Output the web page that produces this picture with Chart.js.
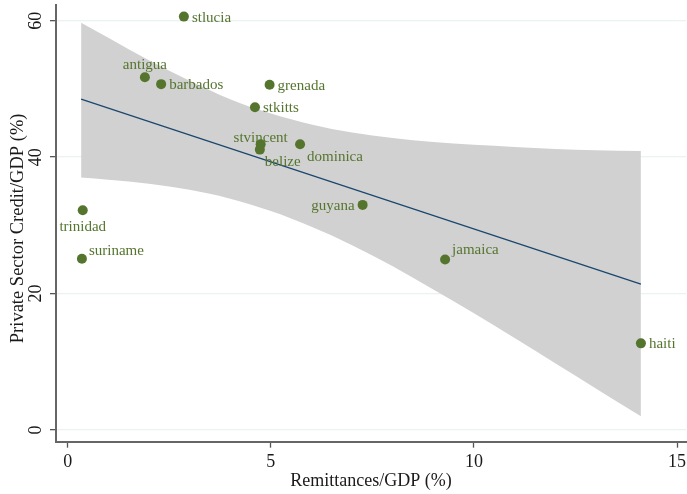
<!DOCTYPE html>
<html>
<head>
<meta charset="utf-8">
<script src="https://cdn.jsdelivr.net/npm/chart.js@4.4.0/dist/chart.umd.min.js"></script>
<style>
  html, body { margin: 0; padding: 0; background: #fff; }
  #wrap { width: 687px; height: 494px; }
</style>
</head>
<body>
<div id="wrap"><canvas id="chart"></canvas></div>
<script>
// data
const countries = ['stlucia', 'antigua', 'barbados', 'grenada', 'stkitts', 'stvincent', 'belize',
                   'dominica', 'guyana', 'trinidad', 'suriname', 'jamaica', 'haiti'];
const remittances = [2.86, 1.90, 2.30, 4.97, 4.61, 4.75, 4.73, 5.72, 7.26, 0.37, 0.35, 9.29, 14.11];
const credit = [60.6, 51.7, 50.7, 50.6, 47.3, 41.9, 41.1, 41.9, 33.0, 32.2, 25.1, 25.0, 12.7];

// fitted line and its confidence band
const fitX = [0.33, 14.11];
const fitY = [48.5, 21.4];
const bandX = [0.33, 1, 2, 3, 4, 5, 6, 7, 8, 9, 10, 11, 12, 13, 14.11];
const bandHigh = [59.7, 57.5, 54.2, 51.2, 48.5, 46.4, 44.8, 43.6, 42.8, 42.2, 41.8, 41.5, 41.2, 41.0, 40.9];
const bandLow = [37.0, 36.7, 36.1, 35.2, 33.9, 32.1, 29.8, 27.1, 24.0, 20.6, 17.1, 13.5, 9.8, 6.1, 2.0];

const xTicks = [0, 5, 10, 15];
const yTicks = [0, 20, 40, 60];

const green = 'rgb(85,117,47)';
const navy = 'rgb(26,71,111)';
const serif = "'Liberation Serif', 'Times New Roman', serif";
const textColor = '#1a1a1a';

// where each marker label sits relative to its marker (dx, dy to baseline, align)
const labelPlace = {
    stlucia: [8, 5, 'left'], antigua: [0, -8, 'center'], barbados: [8, 5, 'left'],
    grenada: [8, 5, 'left'], stkitts: [8, 5, 'left'], stvincent: [0, -2, 'center'],
    belize: [5, 16, 'left'], dominica: [7, 17, 'left'], guyana: [-8, 5, 'right'],
    trinidad: [0, 21, 'center'], suriname: [7, -4, 'left'], jamaica: [7, -5, 'left'],
    haiti: [8, 5, 'left']
};

const pts = (xs, ys) => xs.map((x, i) => ({ x: x, y: ys[i] }));

// marker labels
const markerLabels = {
    id: 'markerLabels',
    afterDatasetsDraw(chart) {
        const ctx = chart.ctx;
        const meta = chart.getDatasetMeta(0);
        ctx.save();
        ctx.font = '15px ' + serif;
        ctx.fillStyle = green;
        ctx.textBaseline = 'alphabetic';
        meta.data.forEach((el, i) => {
            const p = labelPlace[countries[i]] || [8, 5, 'left'];
            ctx.textAlign = p[2];
            ctx.fillText(countries[i], el.x + p[0], el.y + p[1]);
        });
        ctx.restore();
    }
};

// rotated y tick labels and y title (stata style)
const yAxisText = {
    id: 'yAxisText',
    afterDraw(chart) {
        const ctx = chart.ctx;
        const ys = chart.scales.y;
        const area = chart.chartArea;
        ctx.save();
        ctx.fillStyle = textColor;
        ctx.font = '18px ' + serif;
        ctx.textAlign = 'center';
        ctx.textBaseline = 'alphabetic';
        yTicks.forEach(v => {
            ctx.save();
            ctx.translate(area.left - 15, ys.getPixelForValue(v));
            ctx.rotate(-Math.PI / 2);
            ctx.fillText(String(v), 0, 0);
            ctx.restore();
        });
        ctx.font = '18.5px ' + serif;
        ctx.translate(area.left - 33, (area.top + area.bottom) / 2 + 5);
        ctx.rotate(-Math.PI / 2);
        ctx.fillText('Private Sector Credit/GDP (%)', 0, 0);
        ctx.restore();
    }
};

new Chart(document.getElementById('chart'), {
    type: 'scatter',
    data: {
        datasets: [{
            label: 'countries',
            data: pts(remittances, credit),
            pointRadius: 5,
            pointBackgroundColor: green,
            pointBorderColor: green,
            pointBorderWidth: 0
        }, {
            label: 'fit',
            data: pts(fitX, fitY),
            showLine: true,
            borderColor: navy,
            borderWidth: 1.3,
            pointRadius: 0
        }, {
            label: 'upper',
            data: pts(bandX, bandHigh),
            showLine: true,
            borderWidth: 0,
            borderColor: 'rgba(0,0,0,0)',
            backgroundColor: 'rgb(209,209,209)',
            fill: '+1',
            pointRadius: 0,
            cubicInterpolationMode: 'monotone'
        }, {
            label: 'lower',
            data: pts(bandX, bandLow),
            showLine: true,
            borderWidth: 0,
            borderColor: 'rgba(0,0,0,0)',
            fill: false,
            pointRadius: 0,
            cubicInterpolationMode: 'monotone'
        }]
    },
    options: {
        responsive: true,
        maintainAspectRatio: false,
        animation: false,
        events: [],
        layout: { autoPadding: false, padding: { left: 50, top: 5, right: 1, bottom: 0 } },
        plugins: {
            legend: { display: false },
            tooltip: { enabled: false }
        },
        scales: {
            x: {
                type: 'linear',
                min: -0.288,
                max: 15.22,
                afterBuildTicks: s => { s.ticks = xTicks.map(v => ({ value: v })); },
                afterFit: s => { s.height = 52.3; s.paddingLeft = 0; s.paddingRight = 0; },
                grid: { drawOnChartArea: false, drawTicks: true, tickLength: 6, tickColor: '#555', tickWidth: 1.3 },
                border: { color: '#666', width: 2 },
                ticks: {
                    font: { family: serif, size: 18, lineHeight: 1 },
                    color: textColor,
                    padding: 6,
                    maxRotation: 0,
                    autoSkip: false
                },
                title: {
                    display: true,
                    text: 'Remittances/GDP (%)',
                    font: { family: serif, size: 18, lineHeight: 1 },
                    color: textColor,
                    padding: { top: 0, bottom: 4 }
                }
            },
            y: {
                type: 'linear',
                min: -1.715,
                max: 62.3,
                afterBuildTicks: s => { s.ticks = yTicks.map(v => ({ value: v })); },
                afterFit: s => { s.paddingTop = 0; s.paddingBottom = 0; },
                grid: { color: 'rgb(234,242,243)', lineWidth: 1.3, drawTicks: true, tickLength: 6, tickColor: '#555', tickWidth: 1.3 },
                border: { color: '#666', width: 2 },
                ticks: { display: false },
                title: { display: false }
            }
        }
    },
    plugins: [markerLabels, yAxisText]
});
</script>
</body>
</html>
